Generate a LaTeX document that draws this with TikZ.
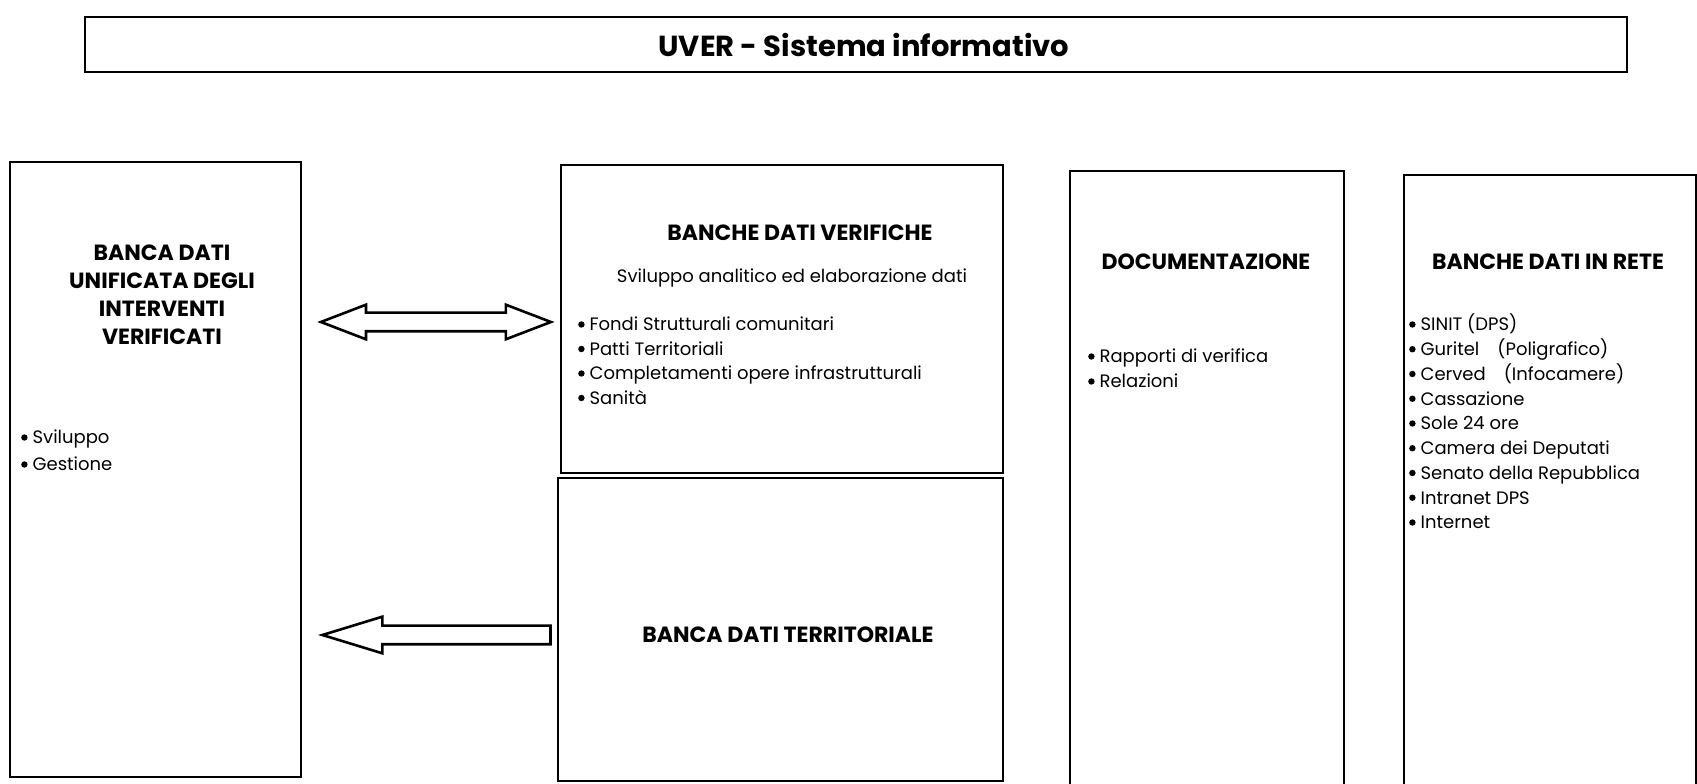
\documentclass[tikz,border=0pt]{standalone}
\usepackage{fontspec}
\setmainfont{Poppins}
\usetikzlibrary{shapes.arrows,positioning,calc}

\newcommand{\blt}{\tikz[baseline=-6.5pt]\fill (0,0) circle (3.2pt);\hspace{5pt}}

\tikzset{
 panel/.style={draw,line width=1.8pt,inner sep=0pt,anchor=south west},
 heading/.style={font=\bfseries\fontsize{22}{28}\selectfont,inner sep=0pt,anchor=base},
 plain/.style={font=\fontsize{18}{25}\selectfont,inner sep=0pt},
 item/.style={plain,anchor=base west},
 fatarrow/.style={draw,fill=white,line width=2.6pt,inner xsep=0pt,inner ysep=8pt}
}

\begin{document}
\begin{tikzpicture}[x=1pt,y=1pt]
\useasboundingbox (0,0) rectangle (1697,784);
% frames
\node[panel,minimum width=1542pt,minimum height=55pt] (title) at (84,711) {};
\node[panel,minimum width=291pt,minimum height=615pt] (unif) at (9,6) {};
\node[panel,minimum width=442pt,minimum height=308pt] (verif) at (560,310) {};
\node[panel,minimum width=445pt,minimum height=303pt] (terr) at (557,2) {};
\node[panel,minimum width=274pt,minimum height=630pt] (docu) at (1069,-18) {};
\node[panel,minimum width=292pt,minimum height=626pt] (rete) at (1403,-18) {};

\node[font=\bfseries\fontsize{29}{34}\selectfont] (titletxt) at ($(title.center)+(8,0)$) {UVER - Sistema informativo};

% unified data bank
\foreach \txt [count=\i] in {BANCA DATI,UNIFICATA DEGLI,INTERVENTI,VERIFICATI}
 \node[heading] (unifhead-\i) at (162,551-28*\i) {\txt};
\foreach \txt [count=\i] in {Sviluppo,Gestione}
 \node[item] (unifitem-\i) at (21,367-27*\i) {\blt\txt};

% checks
\node[heading] (verifhead) at (800,543) {BANCHE DATI VERIFICHE};
\node[plain,anchor=base] (verifsub) at (792,501) {Sviluppo analitico ed elaborazione dati};
\foreach \txt [count=\i] in {Fondi Strutturali comunitari,Patti Territoriali,Completamenti opere infrastrutturali,Sanità}
 \node[item] (verifitem-\i) at (578,477.5-24.5*\i) {\blt\txt};

\node[heading] (terrhead) at (788,141) {BANCA DATI TERRITORIALE};

% documents
\node[heading] (docuhead) at (1206,514) {DOCUMENTAZIONE};
\foreach \txt [count=\i] in {Rapporti di verifica,Relazioni}
 \node[item] (docuitem-\i) at (1088,446-25*\i) {\blt\txt};

% online sources
\node[heading] (retehead) at (1548,514) {BANCHE DATI IN RETE};
\foreach \txt [count=\i] in {SINIT (DPS),Guritel\quad(Poligrafico),Cerved\quad(Infocamere),Cassazione,Sole 24 ore,Camera dei Deputati,Senato della Repubblica,Intranet DPS,Internet}
 \node[item] (reteitem-\i) at (1409,477.75-24.75*\i) {\blt\txt};

% block arrows
\node[fatarrow,double arrow,double arrow head extend=8pt,double arrow tip angle=42,minimum height=230pt] (both) at ($(unif.east |- 0,462)!.5!(verif.west |- 0,462)+(5,0)$) {};
\node[fatarrow,single arrow,shape border rotate=180,single arrow head extend=9pt,single arrow tip angle=34,minimum height=228pt,anchor=tip] (back) at (318,149) {};
\end{tikzpicture}
\end{document}
